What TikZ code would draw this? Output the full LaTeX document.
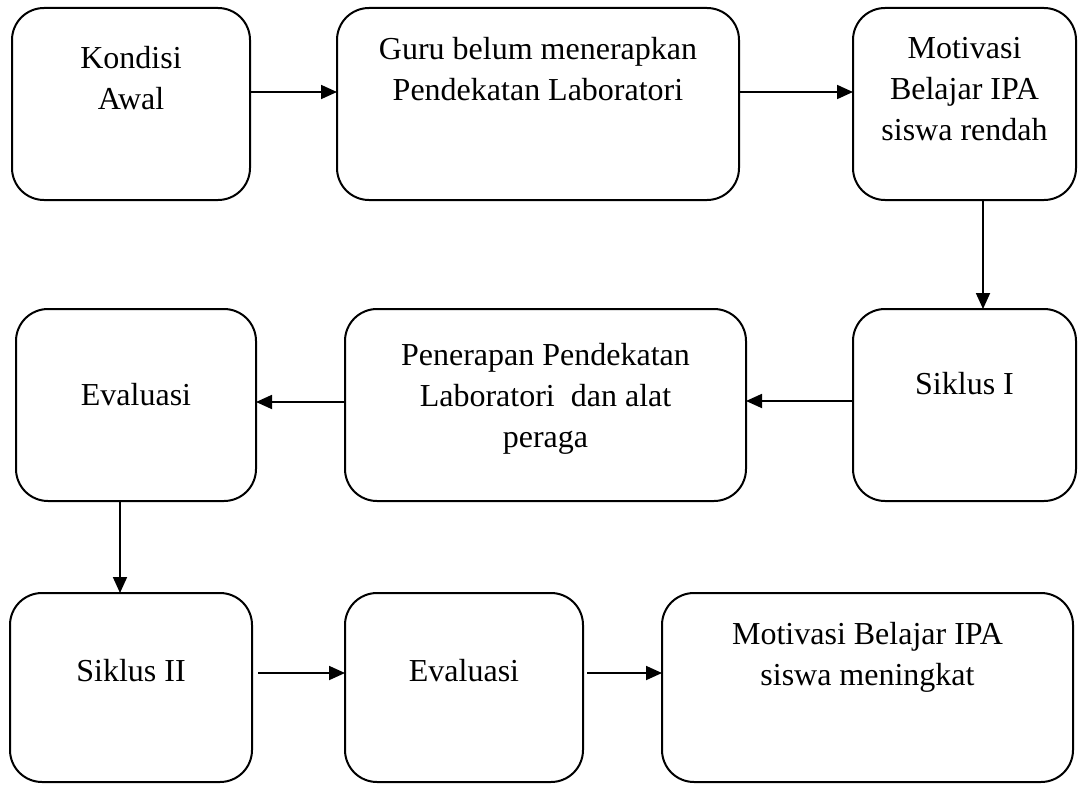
\documentclass[tikz,border=0pt]{standalone}
\usepackage{fontspec}
\setmainfont{Liberation Serif}
\usetikzlibrary{arrows.meta}
\begin{document}
\begin{tikzpicture}[x=1pt,y=-1pt,
  box/.style={draw, line width=2pt, rounded corners=32pt, inner sep=0pt, outer sep=0pt, minimum height=192pt},
  txt/.style={inner sep=0pt, align=center, anchor=north, font=\fontsize{32}{41}\selectfont},
  arr/.style={draw, line width=1.8pt, -{Triangle[length=16pt,width=14pt]}}]
\useasboundingbox (0,0) rectangle (1081,784);
% boxes
\node[box, minimum width=238pt] (b1) at (131,104) {};
\node[box, minimum width=402pt] (b2) at (538,104) {};
\node[box, minimum width=223pt] (b3) at (964.5,104) {};
\node[box, minimum width=240pt] (b4) at (136,405) {};
\node[box, minimum width=401pt] (b5) at (545.5,405) {};
\node[box, minimum width=223pt] (b6) at (964.5,405) {};
\node[box, minimum width=242pt, minimum height=189pt] (b7) at (131,687.5) {};
\node[box, minimum width=238pt, minimum height=189pt] (b8) at (464,687.5) {};
\node[box, minimum width=411pt, minimum height=189pt] (b9) at (867.5,687.5) {};
% texts
\node[txt] (t1) at (131,39.3) {\strut Kondisi\\\strut Awal};
\node[txt] (t2) at (538,30.3) {\strut Guru belum menerapkan\\\strut Pendekatan Laboratori};
\node[txt] (t3) at (964.5,29.3) {\strut Motivasi\\\strut Belajar IPA\\\strut siswa rendah};
\node[txt] (t4) at (136,376.3) {\strut Evaluasi};
\node[txt] (t5) at (545.5,336.3) {\strut Penerapan Pendekatan\\\strut Laboratori\ \ dan alat\\\strut peraga};
\node[txt] (t6) at (964.5,365.3) {\strut Siklus I};
\node[txt] (t7) at (131,652.3) {\strut Siklus II};
\node[txt] (t8) at (464,652.3) {\strut Evaluasi};
\node[txt] (t9) at (867.5,615.3) {\strut Motivasi Belajar IPA\\\strut siswa meningkat};
% connectors
\draw[arr] ([yshift=12pt]b1.east) -- ([yshift=12pt]b1.east -| b2.west);
\draw[arr] ([yshift=12pt]b2.east) -- ([yshift=12pt]b2.east -| b3.west);
\draw[arr] ([xshift=18.5pt]b3.south) -- ([xshift=18.5pt]b3.south |- b6.north);
\draw[arr] ([yshift=4pt]b6.west) -- ([yshift=4pt]b6.west -| b5.east);
\draw[arr] ([yshift=3pt]b5.west) -- ([yshift=3pt]b5.west -| b4.east);
\draw[arr] ([xshift=-16pt]b4.south) -- ([xshift=-16pt]b4.south |- b7.north);
\draw[arr] ([xshift=6pt,yshift=14.5pt]b7.east) -- ([yshift=14.5pt]b7.east -| b8.west);
\draw[arr] ([xshift=4pt,yshift=14.5pt]b8.east) -- ([yshift=14.5pt]b8.east -| b9.west);
\end{tikzpicture}
\end{document}
